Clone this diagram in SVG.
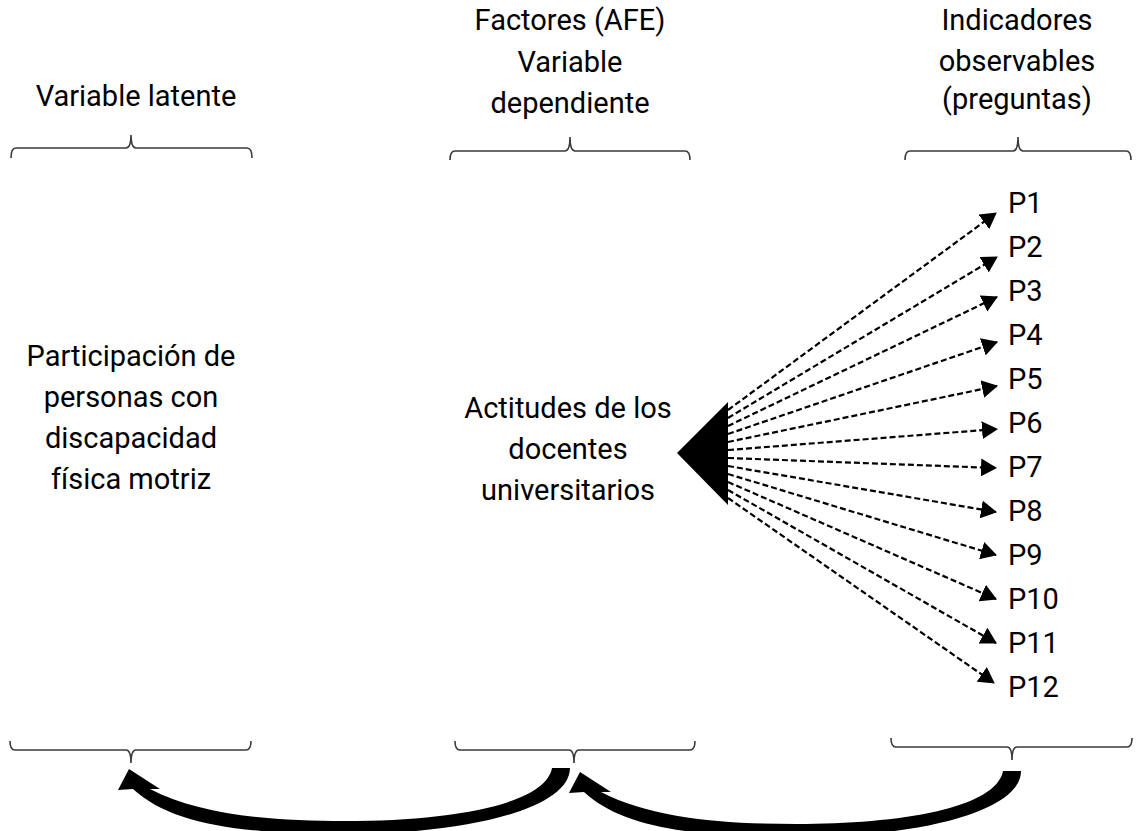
<svg xmlns="http://www.w3.org/2000/svg" width="1139" height="831" viewBox="0 0 1139 831">
<style>
text{font-family:Roboto,"Liberation Sans",sans-serif;font-size:29px;fill:#000}
.c{text-anchor:middle}
.br{fill:none;stroke:#3a3a3a;stroke-width:1.6}
.dl{fill:none;stroke:#000;stroke-width:2.2;stroke-dasharray:6 3;marker-end:url(#ah)}
</style>
<defs>
<marker id="ah" viewBox="0 0 16 18" refX="15" refY="9" markerWidth="16" markerHeight="18" orient="auto" markerUnits="userSpaceOnUse">
<path d="M0,0 L16,9 L0,18 Z" fill="#000"/>
</marker>
<path id="carrow" d="M552,768 L570,768 C570,808 470,834 345,834 C235,834 170,823 133,789 L118,790 L129,769 L160,789 L150,789 C200,815 270,821 345,821 C450,821 545,805 552,768 Z" fill="#000"/>
</defs>
<rect width="1139" height="831" fill="#fff"/>
<g id="col-latente">
<text class="c" x="136" y="106">Variable latente</text>
<path class="br" d="M11,158 Q11,148 16,148 L126,148 Q131,148 131,135 Q131,148 136,148 L247,148 Q252,148 252,158"/>
<text class="c" x="131" y="366">Participación de</text>
<text class="c" x="131" y="407">personas con</text>
<text class="c" x="131" y="448">discapacidad</text>
<text class="c" x="131" y="489">física motriz</text>
<path class="br" d="M10,741 Q10,750 15,750 L126,750 Q131,750 131,763 Q131,750 136,750 L246,750 Q251,750 251,741"/>
</g>
<g id="col-factores">
<text class="c" x="570" y="30">Factores (AFE)</text>
<text class="c" x="570" y="72">Variable</text>
<text class="c" x="570" y="113">dependiente</text>
<path class="br" d="M450,160 Q450,151 455,151 L565,151 Q570,151 570,137 Q570,151 575,151 L685,151 Q690,151 690,160"/>
<text class="c" x="568" y="418">Actitudes de los</text>
<text class="c" x="568" y="459">docentes</text>
<text class="c" x="568" y="500">universitarios</text>
<path class="br" d="M455,741 Q455,750 460,750 L569,750 Q574,750 574,763 Q574,750 579,750 L690,750 Q695,750 695,741"/>
</g>
<g id="col-indicadores">
<text class="c" x="1017" y="30">Indicadores</text>
<text class="c" x="1017" y="71">observables</text>
<text class="c" x="1017" y="109">(preguntas)</text>
<path class="br" d="M905,160 Q905,151 910,151 L1013,151 Q1018,151 1018,137 Q1018,151 1023,151 L1126,151 Q1131,151 1131,160"/>
<path class="br" d="M891,738 Q891,747 896,747 L1007,747 Q1012,747 1012,760 Q1012,747 1017,747 L1127,747 Q1132,747 1132,738"/>
</g>
<g id="indicators">
<text x="1008" y="213">P1</text>
<text x="1008" y="257">P2</text>
<text x="1008" y="301">P3</text>
<text x="1008" y="345">P4</text>
<text x="1008" y="389">P5</text>
<text x="1008" y="433">P6</text>
<text x="1008" y="477">P7</text>
<text x="1008" y="521">P8</text>
<text x="1008" y="565">P9</text>
<text x="1008" y="609">P10</text>
<text x="1008" y="653">P11</text>
<text x="1008" y="697">P12</text>
</g>
<g id="connectors">
<polygon points="677,453 728,402 728,505" fill="#000"/>
<line class="dl" x1="728" y1="410" x2="996" y2="213"/>
<line class="dl" x1="728" y1="418" x2="997" y2="257"/>
<line class="dl" x1="728" y1="426" x2="997" y2="297"/>
<line class="dl" x1="728" y1="434" x2="997" y2="342"/>
<line class="dl" x1="728" y1="442" x2="997" y2="386"/>
<line class="dl" x1="728" y1="450" x2="997" y2="429"/>
<line class="dl" x1="728" y1="458" x2="996" y2="468"/>
<line class="dl" x1="728" y1="466" x2="996" y2="512"/>
<line class="dl" x1="728" y1="474" x2="996" y2="555"/>
<line class="dl" x1="728" y1="482" x2="996" y2="599"/>
<line class="dl" x1="728" y1="490" x2="996" y2="643"/>
<line class="dl" x1="728" y1="498" x2="994" y2="683"/>
<use href="#carrow"/>
<use href="#carrow" transform="translate(451,3)"/>
</g>
</svg>
